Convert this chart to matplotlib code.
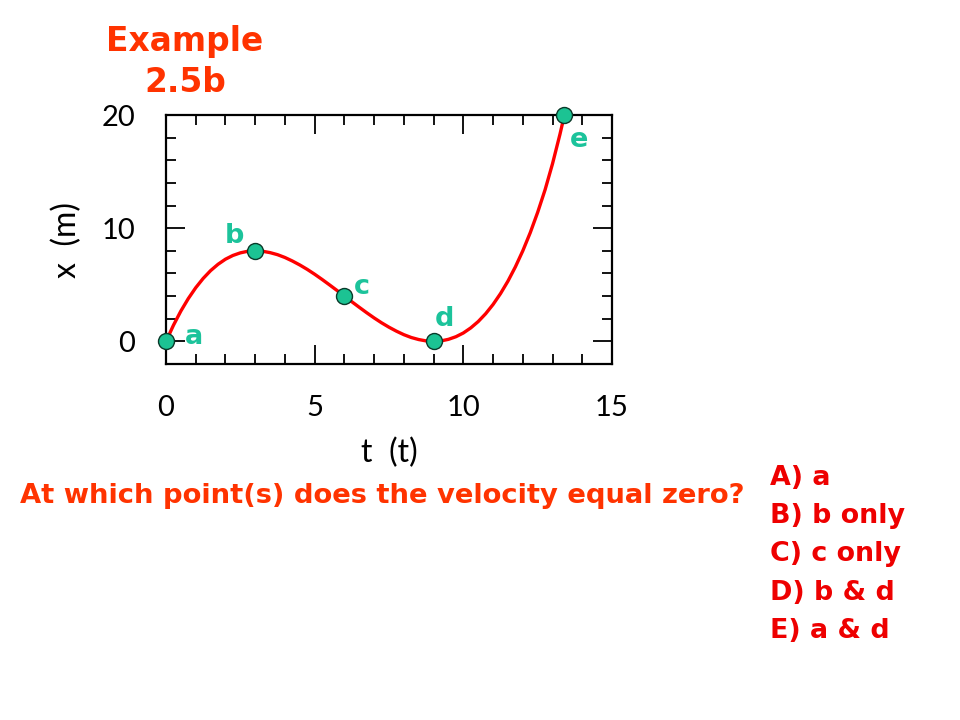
import matplotlib
matplotlib.use("Agg")
import matplotlib.pyplot as plt
from matplotlib.ticker import MultipleLocator

# curve samples
t_vals = [0, 0.25, 0.5, 0.75, 1, 1.25, 1.5, 1.75, 2, 2.25, 2.5, 2.75, 3,
          3.25, 3.5, 3.75, 4, 4.25, 4.5, 4.75, 5, 5.25, 5.5, 5.75, 6,
          6.25, 6.5, 6.75, 7, 7.25, 7.5, 7.75, 8, 8.25, 8.5, 8.75, 9,
          9.25, 9.5, 9.75, 10, 10.25, 10.5, 10.75, 11, 11.25, 11.5, 11.75,
          12, 12.25, 12.5, 12.75, 13, 13.25, 13.4]
x_vals = [0, 1.42, 2.68, 3.78, 4.74, 5.56, 6.25, 6.81, 7.26, 7.59, 7.82,
          7.96, 8.0, 7.96, 7.84, 7.66, 7.41, 7.10, 6.75, 6.36, 5.93, 5.47,
          4.99, 4.50, 4.0, 3.50, 3.01, 2.53, 2.07, 1.64, 1.25, 0.90, 0.59,
          0.34, 0.16, 0.04, 0, 0.04, 0.18, 0.41, 0.74, 1.19, 1.75, 2.44,
          3.26, 4.22, 5.32, 6.58, 8.0, 9.6, 11.4, 13.4, 15.7, 18.3, 20.0]

# labelled points
pt_names = ["a", "b", "c", "d", "e"]
pt_t = [0, 3, 6, 9, 13.4]
pt_x = [0, 8, 4, 0, 20]
lbl_t = [0.95, 2.3, 6.6, 9.35, 13.9]
lbl_x = [0.4, 9.3, 4.8, 2.0, 17.8]

xticks = [0, 5, 10, 15]
yticks = [0, 10, 20]

title_text = "Example\n2.5b"
question = "At which point(s) does the velocity equal zero?"
options = ["A) a", "B) b only", "C) c only", "D) b & d", "E) a & d"]

fig = plt.figure(figsize=(9.6, 7.2), dpi=100)
ax = fig.add_axes([166/960, 1-364/720, 446/960, 249/720])

ax.plot(t_vals, x_vals, color="#ff0000", lw=2.4, zorder=2,
        solid_capstyle="round", solid_joinstyle="round")
ax.plot(pt_t, pt_x, "o", ms=11.5, mfc="#1cc393", mec="#0a3a2a", mew=1.0,
        zorder=3, clip_on=False)
teal = "#1cc39b"
for n, lt, lx in zip(pt_names, lbl_t, lbl_x):
    ax.text(lt, lx, n, color=teal, fontsize=19.5, fontweight="bold",
            ha="center", va="center", family="DejaVu Sans")

ax.set_xlim(0, 15)
ax.set_ylim(-2, 20)
ax.set_xticks(xticks)
ax.set_yticks(yticks)
ax.xaxis.set_minor_locator(MultipleLocator(1))
ax.yaxis.set_minor_locator(MultipleLocator(2))
ax.tick_params(which="both", direction="in", top=True, right=True, width=1.3, color="black")
ax.tick_params(which="major", length=13.5, pad=22, labelsize=21, labelcolor="black")
ax.tick_params(which="minor", length=7)
for lab in ax.get_xticklabels() + ax.get_yticklabels():
    lab.set_family("Lato")
for s in ax.spines.values():
    s.set_linewidth(1.6)

ax.set_xlabel("t  (t)", fontsize=23, family="Lato", labelpad=12, color="black")
ax.set_ylabel("x  (m)", fontsize=23, family="Lato", labelpad=14, color="black")

fig.text(185/960, 1-62/720, title_text, color="#ff3300", fontsize=23.7,
         fontweight="bold", ha="center", va="center", family="DejaVu Sans",
         linespacing=1.3)
fig.text(20/960, 1-496/720, question, color="#ff3300", fontsize=19.7,
         fontweight="bold", ha="left", va="center", family="DejaVu Sans")
for i, o in enumerate(options):
    fig.text(770/960, 1-(478 + 38.2*i)/720, o, color="#ee0000", fontsize=19.4,
             fontweight="bold", ha="left", va="center", family="DejaVu Sans")

fig.savefig("out.png", dpi=100)
